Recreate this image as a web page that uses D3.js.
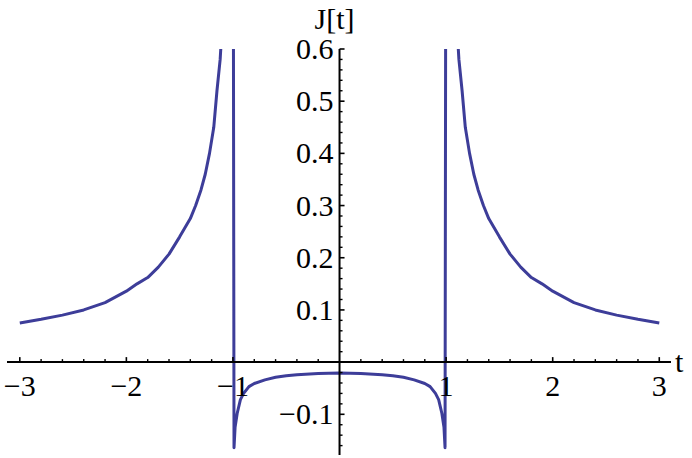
<!DOCTYPE html>
<html><head><meta charset="utf-8">
<script src="https://cdn.jsdelivr.net/npm/d3@7"></script>
</head><body style="margin:0">
<script>
const tValues = [-3.0,-2.8,-2.6,-2.4,-2.2,-2.0,-1.9,-1.8,-1.7,-1.6,-1.5,-1.4,-1.35,-1.3,-1.26,-1.22,-1.18,-1.15,-1.12,-1.1,-1.005,
  -0.99,-0.98,-0.96,-0.93,-0.9,-0.85,-0.8,-0.7,-0.6,-0.5,-0.4,-0.2,0,0.2,0.4,0.5,0.6,0.7,0.8,0.85,0.9,0.93,0.96,0.98,0.99,
  1.005,1.1,1.12,1.15,1.18,1.22,1.26,1.3,1.35,1.4,1.5,1.6,1.7,1.8,1.9,2.0,2.2,2.4,2.6,2.8,3.0];
const jValues = [0.075,0.082,0.090,0.100,0.114,0.136,0.150,0.162,0.182,0.207,0.240,0.275,0.300,0.330,0.360,0.400,0.450,0.520,0.580,0.650,2.0,
  -0.164,-0.125,-0.098,-0.072,-0.060,-0.047,-0.041,-0.034,-0.029,-0.026,-0.024,-0.022,-0.021,-0.022,-0.024,-0.026,-0.029,-0.034,-0.041,-0.047,-0.060,-0.072,-0.098,-0.125,-0.164,
  2.0,0.650,0.580,0.520,0.450,0.400,0.360,0.330,0.300,0.275,0.240,0.207,0.182,0.162,0.150,0.136,0.114,0.100,0.090,0.082,0.075];
const xTicks = [-3,-2,-1,1,2,3];
const xTickLabels = ["\u22123","\u22122","\u22121","1","2","3"];
const yTicks = [-0.1,0.1,0.2,0.3,0.4,0.5,0.6];
const yTickLabels = ["\u22120.1","0.1","0.2","0.3","0.4","0.5","0.6"];
const xLabel = "t", yLabel = "J[t]";

const W = 692, H = 458;
const svg = d3.select("body").append("svg").attr("width", W).attr("height", H)
  .style("display","block").attr("font-family","Liberation Serif").style("font-family",'"Liberation Serif"');
const x = d3.scaleLinear().domain([-3.12, 3.11]).range([7, 671]);
const y = d3.scaleLinear().domain([-0.178, 0.6]).range([455, 49]);
const FF = '"Liberation Serif"';
const FS = "30px";
const color = "#3d3d99";

svg.append("clipPath").attr("id","clip").append("rect")
  .attr("x", x(-3.12)).attr("y", y(0.6)).attr("width", x(3.11)-x(-3.12)).attr("height", y(-0.178)-y(0.6));

const data = tValues.map((t,i)=>({t, v:jValues[i]}));
svg.append("path").datum(data).attr("clip-path","url(#clip)")
  .attr("fill","none").attr("stroke",color).attr("stroke-width",3).attr("stroke-linejoin","round")
  .attr("d", d3.line().x(d=>x(d.t)).y(d=>y(d.v)));

// X axis
const xMinor = d3.range(-3.2, 3.2001, 0.2).map(v=>+v.toFixed(2)).filter(v=>v>=-3.12 && v<=3.11 && Math.abs(v)>1e-9 && Math.abs(v-Math.round(v))>1e-6);
const gx = svg.append("g").attr("transform", `translate(0,${y(0)})`);
gx.append("line").attr("x1", x(-3.12)).attr("x2", x(3.11)).attr("stroke","#000").attr("stroke-width",2);
gx.selectAll(".maj").data(xTicks).enter().append("line").attr("x1",d=>x(d)).attr("x2",d=>x(d)).attr("y1",0).attr("y2",-5).attr("stroke","#000").attr("stroke-width",1.6);
gx.selectAll(".min").data(xMinor).enter().append("line").attr("x1",d=>x(d)).attr("x2",d=>x(d)).attr("y1",0).attr("y2",-3).attr("stroke","#000").attr("stroke-width",1.4);
gx.selectAll("text").data(xTicks).enter().append("text").attr("x",d=>x(d)).attr("y",34)
  .attr("text-anchor","middle").attr("font-family","Liberation Serif").style("font-family",FF).style("font-size",FS).text((d,i)=>xTickLabels[i]);
svg.append("text").attr("x",675).attr("y",y(0)+10).attr("font-family","Liberation Serif").style("font-family",FF).style("font-size",FS).text(xLabel);

// Y axis
const yMinor = d3.range(-0.18, 0.6001, 0.02).map(v=>+v.toFixed(3)).filter(v=>v>=-0.178 && Math.abs(v)>1e-9 && Math.abs(v*10-Math.round(v*10))>1e-6);
const gy = svg.append("g").attr("transform", `translate(${x(0)},0)`);
gy.append("line").attr("y1", y(0.6)).attr("y2", y(-0.178)).attr("stroke","#000").attr("stroke-width",2);
gy.selectAll(".maj").data(yTicks).enter().append("line").attr("y1",d=>y(d)).attr("y2",d=>y(d)).attr("x1",0).attr("x2",5).attr("stroke","#000").attr("stroke-width",1.6);
gy.selectAll(".min").data(yMinor).enter().append("line").attr("y1",d=>y(d)).attr("y2",d=>y(d)).attr("x1",0).attr("x2",3).attr("stroke","#000").attr("stroke-width",1.4);
gy.selectAll("text").data(yTicks).enter().append("text").attr("x",-6).attr("y",d=>y(d)+10)
  .attr("text-anchor","end").attr("font-family","Liberation Serif").style("font-family",FF).style("font-size",FS).text((d,i)=>yTickLabels[i]);
svg.append("text").attr("x",x(0)-5).attr("y",29).attr("text-anchor","middle").attr("font-family","Liberation Serif").style("font-family",FF).style("font-size",FS).text(yLabel);
</script>
</body></html>
